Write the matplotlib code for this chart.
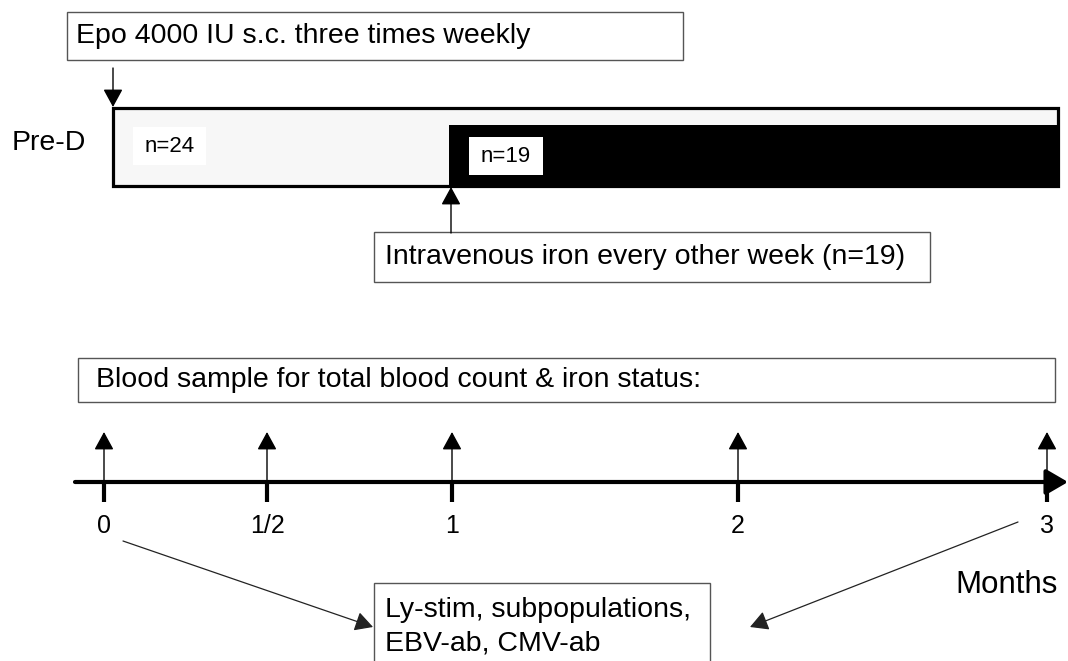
import matplotlib
matplotlib.use("Agg")
import matplotlib.pyplot as plt
from matplotlib.patches import Rectangle
import numpy as np

# ---- data ----
months = [0, 0.5, 1, 2, 3]
month_labels = ["0", "1/2", "1", "2", "3"]
group_labels = ["n=24", "n=19"]
row_label = "Pre-D"
epo_text = "Epo 4000 IU s.c. three times weekly"
iron_text = "Intravenous iron every other week (n=19)"
blood_text = "Blood sample for total blood count & iron status:"
immune_lines = ["Ly-stim, subpopulations,", "EBV-ab, CMV-ab"]
axis_title = "Months"
iron_start_month = 1
immune_months = [0, 3]

# ---- layout (pixel positions of the months on the timeline) ----
month_px = [104, 267, 452, 738, 1047]
def mx(m):
    return float(np.interp(m, months, month_px))

plt.rcParams['font.family'] = ['Liberation Sans', 'DejaVu Sans']
fig = plt.figure(figsize=(10.68, 6.61), dpi=100)
ax = fig.add_axes([0, 0, 1, 1])
ax.set_xlim(0, 1068)
ax.set_ylim(661, 0)
ax.axis('off')

FS = 20.5

def box(x0, y0, x1, y1, **kw):
    ax.add_patch(Rectangle((x0, y0), x1 - x0, y1 - y0, **kw))

def arrow(start, tip, lw=1.0, color='black', hl=0.55, hw=0.3, ms=20):
    ax.annotate('', xy=tip, xytext=start,
                arrowprops=dict(arrowstyle=f'-|>,head_length={hl},head_width={hw}',
                                lw=lw, color=color, shrinkA=0, shrinkB=0,
                                mutation_scale=ms))

# Epo box
box(67, 12, 683, 60, facecolor='white', edgecolor='#555555', lw=1.0)
ax.text(76, 36, epo_text, fontsize=FS, va='center', ha='left')
arrow((113, 68), (113, 107))

# treatment bar
box(113, 107.5, 1058, 185.5, facecolor='#f7f7f7', edgecolor='black', lw=2.3, zorder=2)
box(mx(iron_start_month) - 3, 125, 1058, 186.5, facecolor='black', edgecolor='none', zorder=3)
ax.text(12, 143, row_label, fontsize=FS, va='center', ha='left')

box(133, 127, 206, 165, facecolor='white', edgecolor='none', zorder=4)
ax.text(169.5, 147, group_labels[0], fontsize=16, va='center', ha='center', zorder=5)
box(469, 137, 543, 175, facecolor='white', edgecolor='none', zorder=4)
ax.text(506, 157, group_labels[1], fontsize=16, va='center', ha='center', zorder=5)

# iron arrow & box
arrow((mx(iron_start_month) - 1, 233), (mx(iron_start_month) - 1, 187))
box(374, 232, 930, 282, facecolor='white', edgecolor='#555555', lw=1.0)
ax.text(385, 257, iron_text, fontsize=FS, va='center', ha='left')

# blood sample box
box(78, 358, 1055, 402, facecolor='white', edgecolor='#555555', lw=1.0)
ax.text(96, 380, blood_text, fontsize=FS, va='center', ha='left')

# timeline axis
arrow((75, 482), (1068, 482), lw=3.0, hl=0.6, hw=0.35, ms=22)
for m, lab in zip(months, month_labels):
    x = mx(m)
    ax.plot([x, x], [482, 502], color='black', lw=3.0, solid_capstyle='butt')
    arrow((x, 482), (x, 432))
    ax.text(x, 526, lab, fontsize=18, va='center', ha='center')

ax.text(955, 585, axis_title, fontsize=22.5, va='center', ha='left')

# immune test box & arrows
box(374, 583, 710, 700, facecolor='white', edgecolor='#555555', lw=1.0)
ax.text(385, 610, immune_lines[0], fontsize=FS, va='center', ha='left')
ax.text(385, 643, immune_lines[1], fontsize=FS, va='center', ha='left')
arrow((mx(immune_months[0]) + 19, 541), (373, 627), lw=0.9, color='#222222')
arrow((mx(immune_months[1]) - 29, 522), (750, 627), lw=0.9, color='#222222')

fig.savefig("out.png", dpi=100)
